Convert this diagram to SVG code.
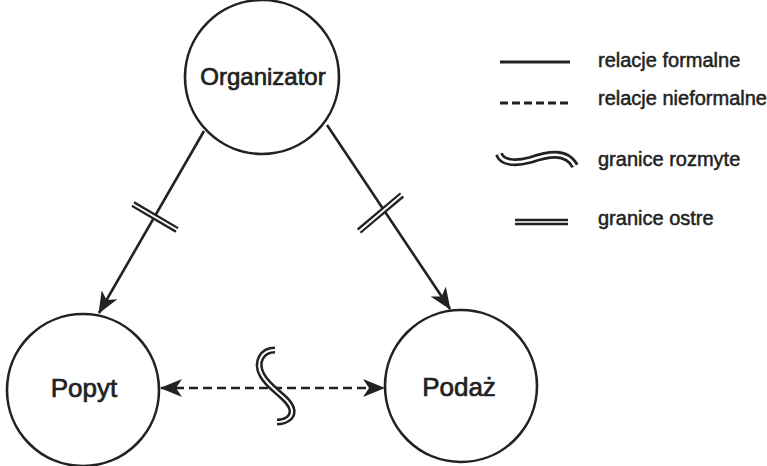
<svg xmlns="http://www.w3.org/2000/svg" width="767" height="466" viewBox="0 0 767 466">
<style>
.node{fill:#fff;stroke:#222;stroke-width:2.6}
.lbl{font-family:"Liberation Sans",Arial,sans-serif;fill:#222;stroke:#222;stroke-width:0.7;text-anchor:middle}
.leg{font-family:"Liberation Sans",Arial,sans-serif;fill:#222;stroke:#222;stroke-width:0.5;font-size:20px}
.edge{fill:none;stroke:#222;stroke-width:2.6}
.dash{stroke-dasharray:9 5}
.dblk{fill:none;stroke:#222;stroke-linecap:butt}
.dwht{fill:none;stroke:#fff;stroke-linecap:butt}
</style>
<defs>
<marker id="arr" markerUnits="userSpaceOnUse" viewBox="0 0 22 18" refX="21" refY="9" markerWidth="22" markerHeight="18" orient="auto-start-reverse">
<path d="M0,0 L22,9 L0,18 L6,9 z" fill="#222"/>
</marker>
</defs>
<rect width="767" height="466" fill="#fff"/>
<g id="connectors">
<line class="edge" x1="204" y1="131" x2="99" y2="313" marker-end="url(#arr)"/>
<line class="edge" x1="327" y1="125" x2="450" y2="309" marker-end="url(#arr)"/>
<line class="edge dash" x1="161" y1="388" x2="384" y2="388" marker-start="url(#arr)" marker-end="url(#arr)"/>
<line class="dblk" x1="133" y1="204" x2="177" y2="230" stroke-width="6.5"/>
<line class="dwht" x1="131" y1="203" x2="179" y2="231" stroke-width="2"/>
<line class="dblk" x1="359" y1="231" x2="402" y2="195" stroke-width="6.5"/>
<line class="dwht" x1="357" y1="233" x2="404" y2="193" stroke-width="2"/>
<path class="dblk" d="M275 350 C262 350,255 362,262 375 C270 390,290 398,292 410 C293 418,285 422,277 422" stroke-width="7"/>
<path class="dwht" d="M275 350 C262 350,255 362,262 375 C270 390,290 398,292 410 C293 418,285 422,277 422" stroke-width="2"/>
</g>
<g id="organizator">
<circle class="node" cx="262" cy="77" r="77"/>
<text class="lbl" x="263" y="85" font-size="24">Organizator</text>
</g>
<g id="popyt">
<circle class="node" cx="83" cy="390" r="76"/>
<text class="lbl" x="84" y="397" font-size="26">Popyt</text>
</g>
<g id="podaz">
<circle class="node" cx="461" cy="386" r="76"/>
<text class="lbl" x="459" y="396" font-size="26">Podaż</text>
</g>
<g id="legend">
<line x1="500" y1="62" x2="570" y2="62" stroke="#222" stroke-width="3"/>
<text class="leg" x="598" y="67">relacje formalne</text>
<line x1="500" y1="103" x2="570" y2="103" stroke="#222" stroke-width="3" stroke-dasharray="8 4"/>
<text class="leg" x="598" y="105">relacje nieformalne</text>
<path class="dblk" d="M499 154 C502 163,515 164,530 160 C548 154,566 150,575 166" stroke-width="8"/>
<path class="dwht" d="M499 154 C502 163,515 164,530 160 C548 154,566 150,575 166" stroke-width="2.6"/>
<text class="leg" x="598" y="166">granice rozmyte</text>
<line class="dblk" x1="515" y1="222" x2="568" y2="222" stroke-width="6.5"/>
<line class="dwht" x1="513" y1="222" x2="570" y2="222" stroke-width="1.6"/>
<text class="leg" x="598" y="225">granice ostre</text>
</g>
</svg>
